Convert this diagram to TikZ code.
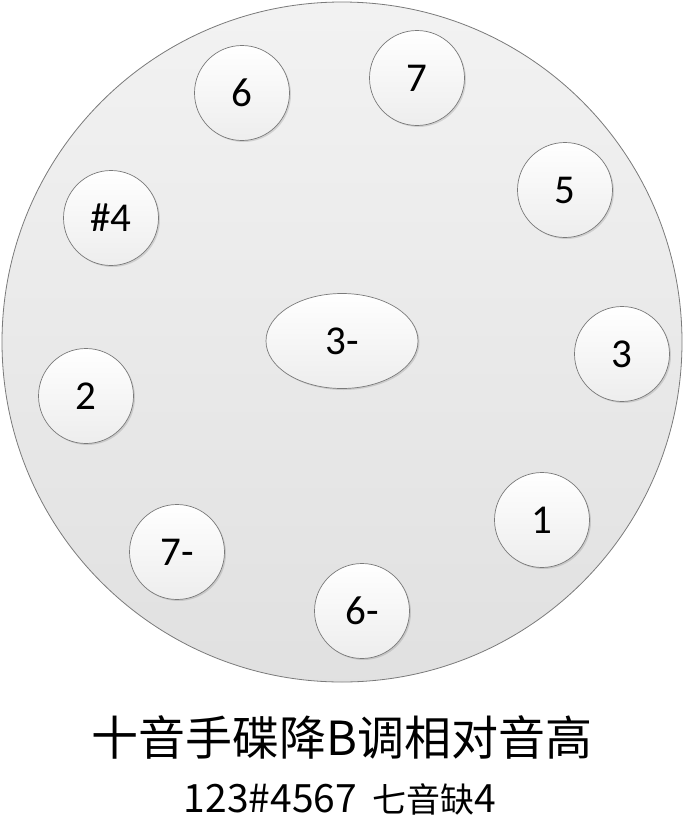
\documentclass[tikz,border=0pt]{standalone}
\usepackage{fontspec}
\setmainfont{Carlito}
\newfontfamily\cjk{Noto Sans CJK SC}
\usetikzlibrary{shapes.geometric,shadows}
\definecolor{rim}{HTML}{7A7A7A}
\tikzset{
  disk/.style={circle, draw=rim, line width=0.8pt, minimum size=680pt, inner sep=0pt,
    top color=black!5, bottom color=black!12},
  key/.style={circle, draw=rim, line width=0.7pt, minimum size=95pt, inner sep=0pt,
    top color=white, bottom color=black!7,
    drop shadow={shadow xshift=1.5pt, shadow yshift=-1.5pt, fill=black, opacity=0.12},
    font=\fontsize{41}{41}\selectfont},
  dingkey/.style={key, ellipse, minimum width=152pt, minimum height=95pt},
  title/.style={font=\cjk\fontsize{47}{47}\selectfont, inner sep=0pt},
  subtitle/.style={font=\cjk\fontsize{34}{34}\selectfont, inner sep=0pt}
}
\newcommand{\bigdig}[1]{{\fontsize{39}{39}\selectfont #1}}
\begin{document}
\begin{tikzpicture}[x=1pt,y=-1pt]
\useasboundingbox (0,0) rectangle (684,825);
\node[disk] (disk) at (342,342) {};
\node[key] (k6) at (242,93) {6};
\node[key] (k7) at (417,78) {7};
\node[key] (k5) at (565,190) {5};
\node[key] (k4s) at (111,218) {\#4};
\node[dingkey] (k3m) at (342,341) {3-};
\node[key] (k3) at (622,354) {3};
\node[key] (k2) at (86,396) {2};
\node[key] (k1) at (542,520) {1};
\node[key] (k7m) at (177,552) {7-};
\node[key] (k6m) at (362,611) {6-};
\node[title] (t1) at (342,737) {十音手碟降B调相对音高};
\node[subtitle] (t2) at (340,799) {\bigdig{123\#4567}\ \ 七音缺\bigdig{4}};
\end{tikzpicture}
\end{document}
